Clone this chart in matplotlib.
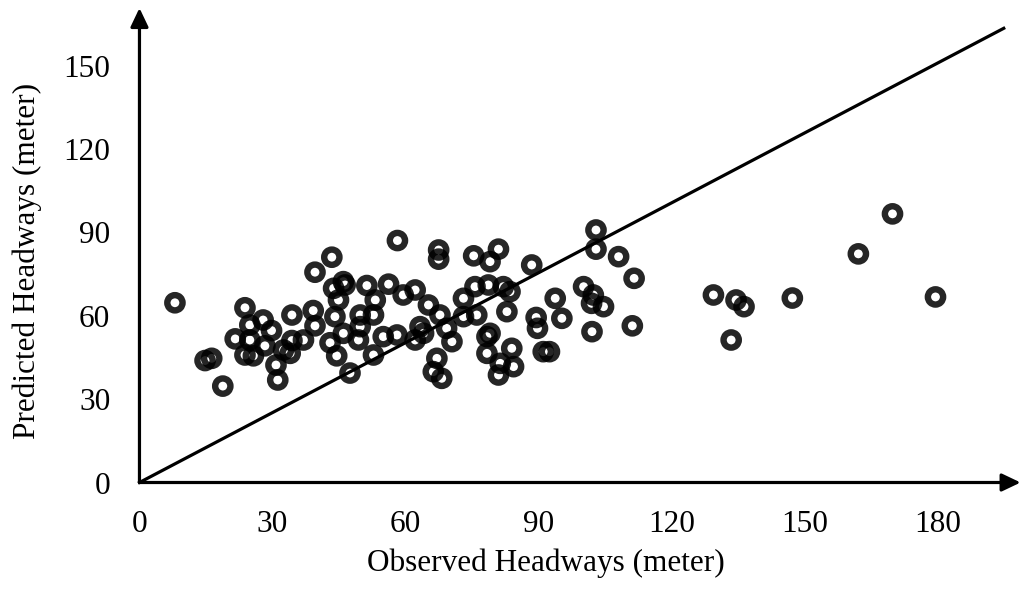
import matplotlib.pyplot as plt

plt.rcParams['font.family'] = ['Liberation Serif', 'DejaVu Serif']

# observed vs predicted headways (meter)
observed = [8, 43.4, 39.6, 23.8, 34.4, 39.2, 43.8, 44.9, 46, 44.1, 39.6, 46, 27.9, 24.9,
            29.8, 21.6, 24.9, 34.4, 37, 28.3, 25.7, 23.8, 32.5, 34, 43, 44.5, 16.3, 14.8,
            30.8, 31.2, 18.8, 47.5,
            58.2, 67.5, 67.5, 75.4, 81, 79.1, 88.5, 46.4, 51.3, 56.2, 53.2, 59.5, 62.2, 65.2,
            67.8, 75.7, 78.7, 82.1, 83.6, 73.1, 82.9, 76.1, 73.1, 89.5, 89.8, 49.8, 52.8,
            49.8, 55, 49.4, 58.1, 63.3, 64.1, 69.3, 70.5, 62.2, 79.1, 78.4, 84, 78.4, 52.8,
            67.1, 66.3, 68.2, 81.4, 84.4, 81,
            103, 103, 108.1, 111.6, 100.2, 102.4, 104.7, 102, 93.8, 95.3, 102.1, 111.2,
            91.1, 92.5,
            129.5, 134.6, 136.4, 133.5, 147.3, 162.2, 169.9, 179.6]
predicted = [64.7, 81.1, 75.7, 62.9, 60.3, 61.9, 69.9, 65.7, 72.3, 59.7, 56.4, 53.7, 58.5, 56.7,
             54.7, 51.7, 51.3, 51.1, 51.3, 49.2, 45.6, 45.9, 47.7, 46.5, 50.3, 45.6, 44.7, 43.9,
             42.3, 36.9, 34.7, 39.4,
             87.1, 83.7, 80.4, 81.6, 84, 79.5, 78.3, 71.1, 70.9, 71.4, 65.7, 67.5, 69.3, 63.9,
             60.3, 70.5, 71.1, 70.5, 68.7, 66.3, 61.5, 60.3, 59.7, 59.4, 55.5, 60.3, 60.3,
             56.1, 52.5, 51.3, 53.1, 56.1, 53.7, 55.5, 50.7, 51.3, 53.7, 52.5, 48.3, 46.5, 45.9,
             44.7, 39.9, 37.5, 42.9, 41.7, 38.7,
             90.9, 84, 81.3, 73.5, 70.5, 67.5, 63.3, 64.5, 66.3, 59.1, 54.3, 56.4,
             47.1, 47.1,
             67.5, 65.7, 63.3, 51.3, 66.4, 82.3, 96.7, 66.8]

line_x = [0, 195]
line_y = [0, 163.5]

x_ticks = [0, 30, 60, 90, 120, 150, 180]
y_ticks = [0, 30, 60, 90, 120, 150]

fig = plt.figure(figsize=(10.21, 5.9), dpi=100)
ax = fig.add_axes([0.1366, 0.1822, 0.863, 0.8042])

ax.scatter(observed, predicted, s=121, facecolors='none', edgecolors=(0, 0, 0, 0.85),
           linewidths=4.6, zorder=3, clip_on=False)
ax.plot(line_x, line_y, color='black', lw=2.3, zorder=2, clip_on=False)

ax.set_xlim(0, 198.8)
ax.set_ylim(0, 170.8)
ax.set_xticks(x_ticks)
ax.set_yticks(y_ticks)
ax.tick_params(axis='x', length=0, pad=20, labelsize=22.5)
ax.tick_params(axis='y', length=0, pad=21, labelsize=22.5)

for side in ['top', 'right', 'bottom', 'left']:
    ax.spines[side].set_visible(False)

# axes drawn as arrows
arrow = dict(arrowstyle='-|>,head_length=0.42,head_width=0.2', lw=2.3, color='black',
             mutation_scale=27, shrinkA=0, shrinkB=0)
ax.annotate('', xy=(1, 0), xytext=(0, 0), xycoords='axes fraction', arrowprops=arrow)
ax.annotate('', xy=(0, 1), xytext=(0, 0), xycoords='axes fraction', arrowprops=arrow)

fig.text(546 / 1021, 1 - 563 / 590, 'Observed Headways (meter)', fontsize=22.5,
         ha='center', va='center')
fig.text(27 / 1021, 1 - 261 / 590, 'Predicted Headways (meter)', fontsize=22.5,
         ha='center', va='center', rotation=90)

plt.savefig('out.png', dpi=100)
